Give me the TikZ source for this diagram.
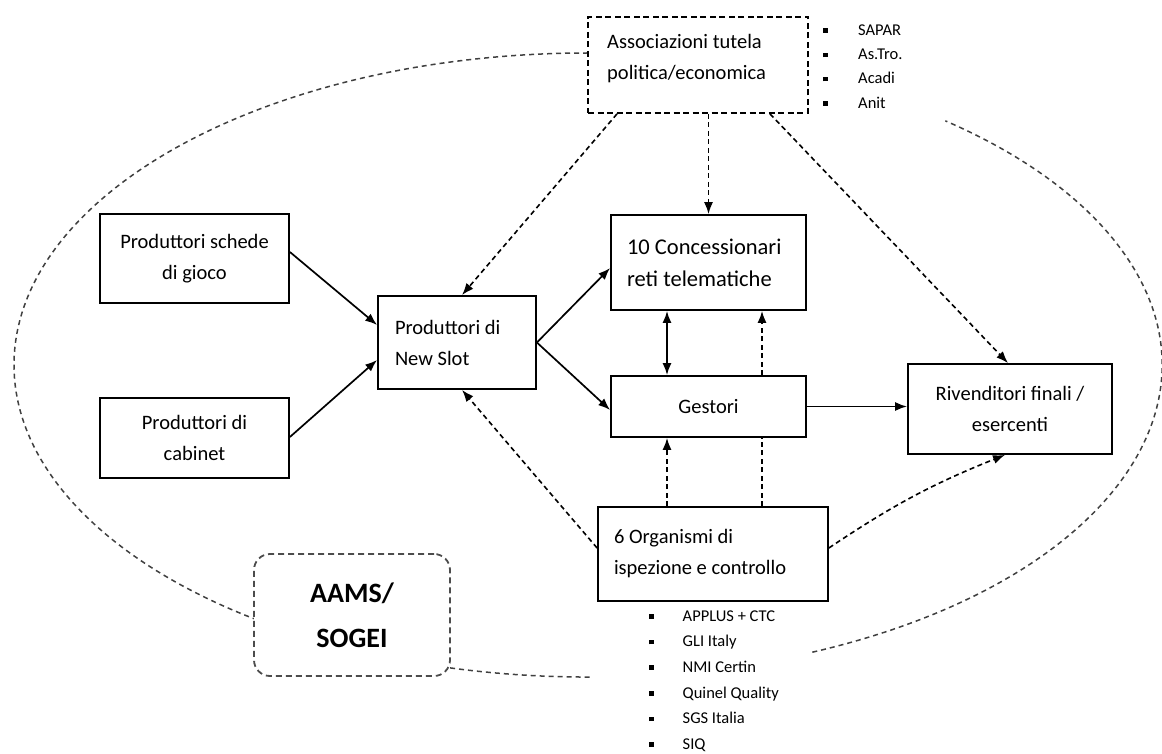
\documentclass[tikz,border=0pt]{standalone}
\usepackage{fontspec}
\setmainfont{Carlito}
\usetikzlibrary{arrows.meta}
% small square bullet for the side lists
\newcommand\itembox[1][29pt]{\raisebox{2.5pt}{\rule{4.5pt}{4.5pt}}\hspace{#1}}
\begin{document}
\begin{tikzpicture}[x=1pt,y=-1pt,
  box/.style={draw=black,line width=1.8pt,fill=white,inner sep=0pt},
  body/.style={font=\fontsize{20.5}{31}\selectfont},
  bigbody/.style={font=\fontsize{22.5}{32}\selectfont},
  tip/.style={-{Latex[length=12pt,width=9pt]}},
  solidarr/.style={line width=1.7pt,tip},
  dasharr/.style={line width=1.6pt,dash pattern=on 5pt off 3.5pt,tip},
  dashline/.style={line width=1.6pt,dash pattern=on 5pt off 3.5pt},
  ringline/.style={draw=black!75,line width=1.5pt,dash pattern=on 5pt off 4pt},
  listtext/.style={align=flush left,inner sep=0pt,anchor=west},
]
\useasboundingbox (0,0) rectangle (1162,754);

% large dashed ring (three visible arcs)
\draw[ringline] (588,53) arc[start angle=270, end angle=125.6, x radius=574, y radius=312];
\draw[ringline] (450.1,667.9) arc[start angle=103.9, end angle=89.8, x radius=574, y radius=312];
\draw[ringline] (812.3,652.2) arc[start angle=67, end angle=-51.5, x radius=574, y radius=312];

% boxes
\node[box,dash pattern=on 6pt off 3.5pt,minimum width=220pt,minimum height=96pt] (assoc) at (698,65) {};
\node[body,anchor=west,align=flush left,inner sep=0pt] (assoctext) at (607,59) {Associazioni tutela\\politica/economica};
\node[listtext,font=\fontsize{16.5}{24.3}\selectfont] (assoclist) at (823,66.5)
  {\itembox[30.5pt]SAPAR\\\itembox[30.5pt]As.Tro.\\\itembox[30.5pt]Acadi\\\itembox[30.5pt]Anit};

\node[box,body,align=center,minimum width=189pt,minimum height=89pt] (schede) at (194.5,258.5) {Produttori schede\\di gioco};
\node[box,body,align=center,minimum width=189pt,minimum height=80pt] (cabinet) at (194.5,438) {Produttori di\\cabinet};
\node[box,body,align=flush left,text width=124pt,minimum width=158pt,minimum height=93pt] (newslot) at (457,342.5) {Produttori di\\New Slot};
\node[box,bigbody,align=flush left,text width=163pt,minimum width=195pt,minimum height=95pt] (conc) at (708.5,262.5) {10 Concessionari\\reti telematiche};
\node[box,body,align=center,minimum width=195pt,minimum height=61pt] (gestori) at (708.5,406.5) {Gestori};
\node[box,body,align=center,minimum width=204pt,minimum height=90pt] (riv) at (1010,409) {Rivenditori finali /\\esercenti};
\node[box,body,align=flush left,text width=198pt,minimum width=230pt,minimum height=94pt] (org) at (713,554) {6 Organismi di\\ispezione e controllo};
\node[listtext,font=\fontsize{16.5}{25.6}\selectfont] (orglist) at (649,681)
  {\itembox APPLUS + CTC\\\itembox GLI Italy\\\itembox NMI Certin\\\itembox Quinel Quality\\\itembox SGS Italia\\\itembox SIQ};

\node[draw=black!70,line width=1.8pt,dash pattern=on 6pt off 4pt,rounded corners=16pt,fill=white,
      minimum width=196pt,minimum height=122pt,align=center,inner sep=0pt,
      font=\fontsize{28}{45}\selectfont\bfseries] (aams) at (352,615) {AAMS/\\SOGEI};

% connectors
\draw[solidarr] ([yshift=6.5pt]schede.east) -- ([yshift=17.5pt]newslot.west);
\draw[solidarr] ([yshift=1pt]cabinet.east) -- ([yshift=-17.5pt]newslot.west);
\draw[solidarr] (newslot.east) -- ([yshift=-5.5pt]conc.west);
\draw[solidarr] (newslot.east) -- ([yshift=-3.5pt]gestori.west);
\draw[line width=1.7pt,{Latex[length=12pt,width=9pt]}-{Latex[length=12pt,width=9pt]}]
  ([xshift=-41.5pt]conc.south) -- ([xshift=-41.5pt]gestori.north);
\draw[dasharr] ([xshift=53.5pt]gestori.north) -- ([xshift=53.5pt]conc.south);
\draw[dasharr] ([xshift=-46pt]org.north) -- ([xshift=-41.5pt]gestori.south);
\draw[dashline] ([xshift=49pt]org.north) -- ([xshift=53.5pt]gestori.south);
\draw[solidarr] (gestori.east) -- (gestori.east -| riv.west);
\draw[dasharr] ([yshift=6pt]org.west) -- ([xshift=5pt]newslot.south);
\draw[dasharr] ([yshift=6pt]org.east) to[bend left=6] ([xshift=-5pt]riv.south);
\draw[dasharr] ([xshift=-81pt]assoc.south) -- ([xshift=5pt]newslot.north);
\draw[dasharr] (assoc.south -| conc.north) -- (conc.north);
\draw[dasharr] ([xshift=72pt]assoc.south) -- ([xshift=-2pt]riv.north);
\end{tikzpicture}
\end{document}
